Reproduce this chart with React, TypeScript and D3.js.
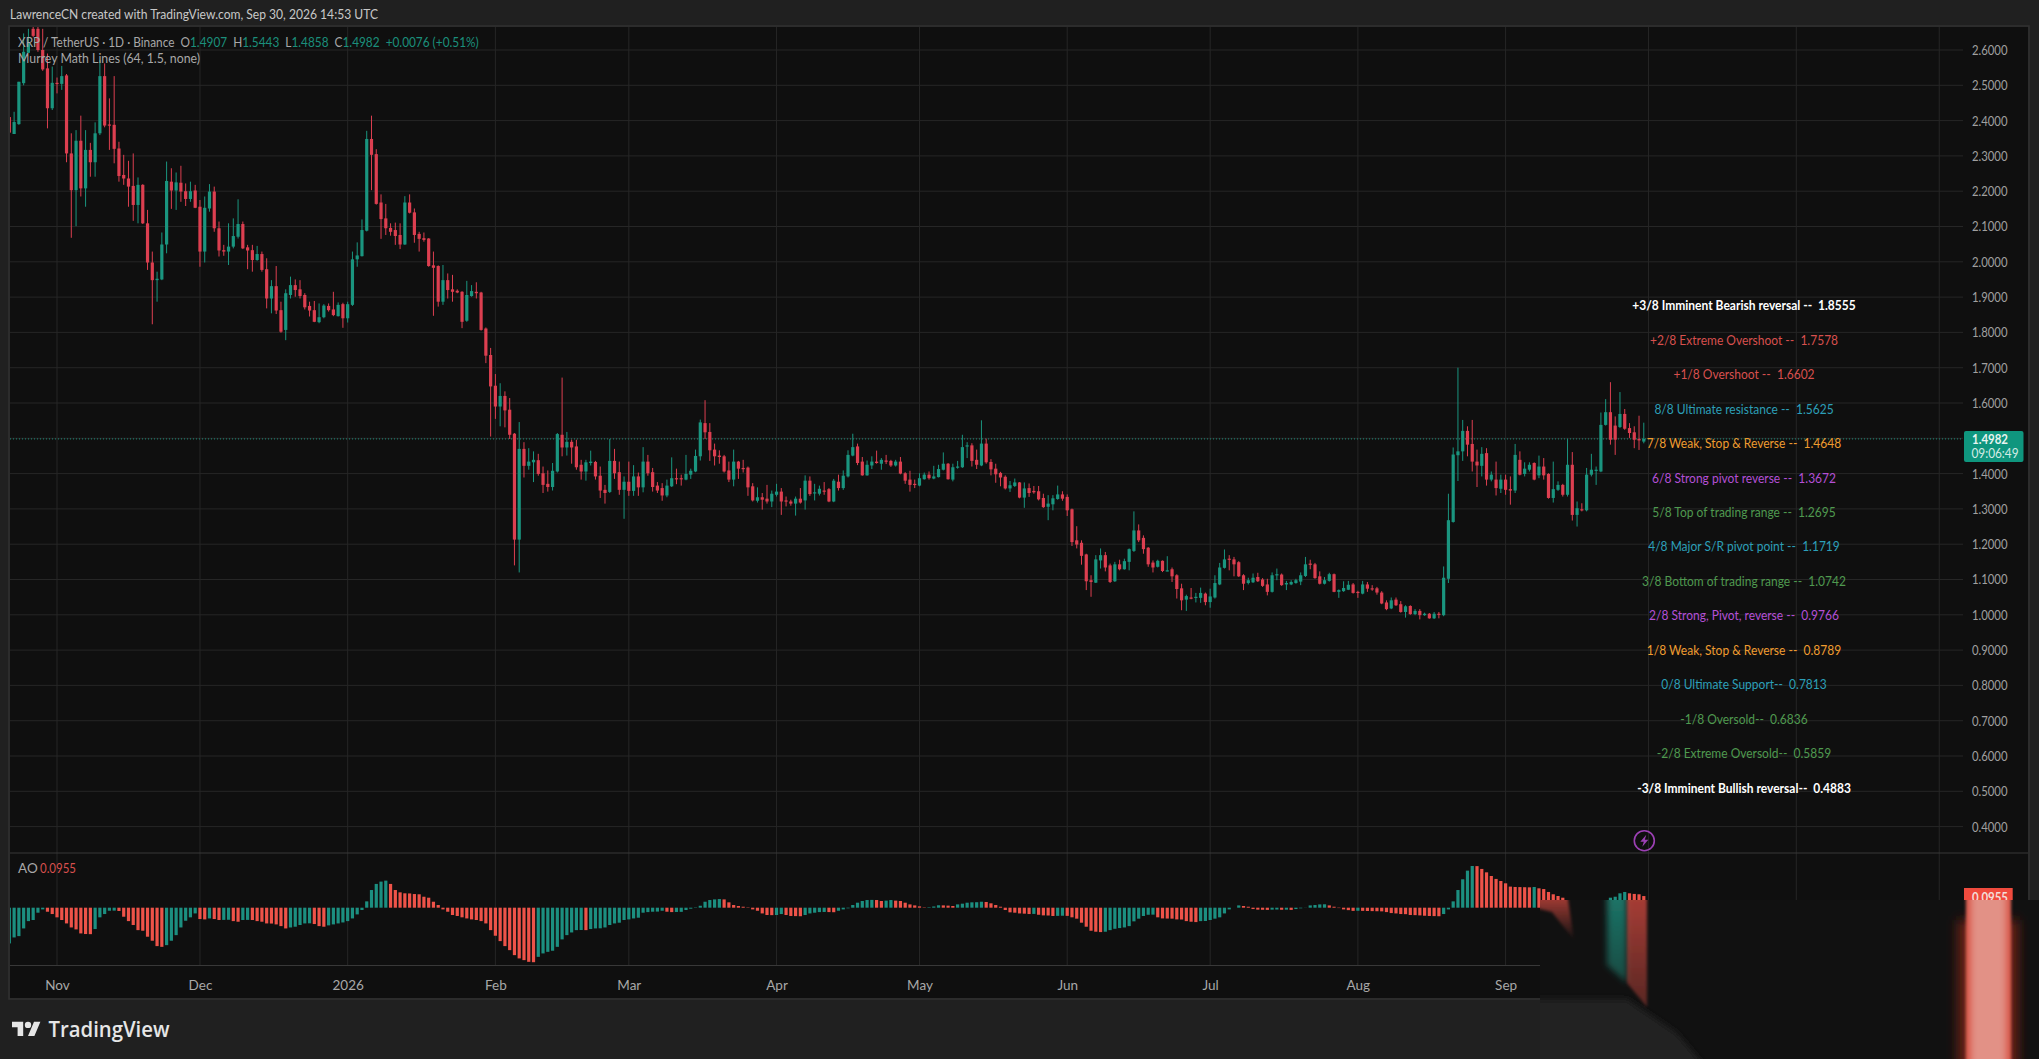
import { useEffect, useRef } from "react";
import * as d3 from "d3";

const WIDTH = 2039;
const HEIGHT = 1059;

const firstDay = new Date(Date.UTC(2025, 9, 22));

const opens = [
  2.41,2.362,2.39,2.506,2.592,2.66,2.66,2.60,2.548,2.435,
  2.507,2.504,2.528,2.307,2.203,2.343,2.208,2.317,2.282,2.364,
  2.526,2.389,2.388,2.321,2.246,2.236,2.215,2.161,2.218,2.109,
  1.998,1.948,1.95,2.049,2.227,2.202,2.224,2.2,2.178,2.202,
  2.156,2.029,2.151,2.199,2.095,2.033,2.029,2.043,2.071,2.107,
  2.041,2.033,2.005,2.022,1.979,1.896,1.931,1.863,1.807,1.906,
  1.934,1.922,1.906,1.875,1.863,1.829,1.843,1.875,1.865,1.846,
  1.88,1.84,1.878,2.007,2.016,2.088,2.348,2.305,2.168,2.123,
  2.096,2.09,2.076,2.049,2.168,2.14,2.079,2.067,2.066,1.99,
  1.988,1.887,1.948,1.922,1.918,1.915,1.833,1.903,1.915,1.913,
  1.811,1.736,1.649,1.59,1.62,1.581,1.513,1.213,1.47,1.422,
  1.432,1.438,1.401,1.371,1.362,1.406,1.51,1.474,1.49,1.477,
  1.425,1.406,1.43,1.433,1.394,1.354,1.348,1.436,1.404,1.354,
  1.377,1.351,1.392,1.361,1.434,1.404,1.366,1.359,1.338,1.364,
  1.387,1.387,1.383,1.397,1.406,1.449,1.543,1.518,1.468,1.451,
  1.449,1.409,1.383,1.434,1.416,1.417,1.364,1.323,1.333,1.329,
  1.321,1.34,1.349,1.324,1.321,1.315,1.329,1.324,1.38,1.345,
  1.343,1.352,1.356,1.321,1.377,1.359,1.392,1.451,1.477,1.434,
  1.395,1.423,1.434,1.428,1.437,1.436,1.423,1.434,1.401,1.383,
  1.371,1.366,1.384,1.397,1.386,1.39,1.411,1.428,1.383,1.418,
  1.418,1.477,1.48,1.439,1.423,1.485,1.433,1.414,1.402,1.391,
  1.358,1.365,1.375,1.332,1.359,1.351,1.35,1.331,1.306,1.313,
  1.328,1.341,1.334,1.299,1.211,1.204,1.171,1.098,1.091,1.154,
  1.169,1.14,1.095,1.143,1.129,1.15,1.181,1.239,1.218,1.19,
  1.148,1.136,1.153,1.124,1.129,1.112,1.075,1.043,1.049,1.048,
  1.048,1.06,1.036,1.049,1.086,1.133,1.159,1.157,1.149,1.112,
  1.09,1.092,1.107,1.1,1.086,1.065,1.112,1.114,1.086,1.086,
  1.09,1.094,1.11,1.145,1.143,1.109,1.088,1.096,1.115,1.065,
  1.067,1.071,1.086,1.065,1.06,1.086,1.075,1.075,1.063,1.035,
  1.018,1.043,1.03,1.008,1.025,1.002,1.011,0.999,1.003,0.99,
  1.003,0.999,1.102,1.263,1.452,1.463,1.521,1.484,1.434,1.422,
  1.458,1.383,1.383,1.357,1.383,1.356,1.352,1.439,1.399,1.411,
  1.43,1.395,1.42,1.399,1.331,1.354,1.368,1.34,1.425,1.283,
  1.299,1.296,1.397,1.408,1.406,1.538,1.574,1.536,1.532,1.569,
  1.529,1.517,1.498,1.4907,
];

const highs = [
  2.421,2.425,2.51,2.647,2.66,2.68,2.68,2.66,2.59,2.553,
  2.522,2.555,2.532,2.364,2.373,2.414,2.373,2.337,2.395,2.572,
  2.562,2.463,2.526,2.34,2.303,2.286,2.307,2.239,2.22,2.147,
  2.029,1.972,2.083,2.284,2.265,2.253,2.272,2.222,2.227,2.218,
  2.175,2.185,2.22,2.213,2.114,2.048,2.109,2.123,2.177,2.114,
  2.048,2.048,2.045,2.029,2.01,1.948,1.988,1.887,1.922,1.958,
  1.95,1.948,1.911,1.887,1.889,1.882,1.88,1.882,1.915,1.885,
  1.884,1.887,2.029,2.055,2.12,2.371,2.414,2.319,2.191,2.164,
  2.109,2.111,2.109,2.186,2.191,2.151,2.085,2.083,2.067,2.029,
  1.99,1.991,1.967,1.963,1.922,1.917,1.946,1.934,1.942,1.915,
  1.814,1.756,1.682,1.656,1.633,1.614,1.515,1.546,1.489,1.472,
  1.463,1.456,1.42,1.409,1.43,1.515,1.672,1.518,1.496,1.496,
  1.439,1.439,1.465,1.436,1.42,1.368,1.498,1.47,1.434,1.392,
  1.434,1.424,1.403,1.475,1.453,1.416,1.376,1.373,1.383,1.446,
  1.414,1.397,1.453,1.414,1.468,1.553,1.608,1.543,1.485,1.466,
  1.453,1.434,1.468,1.436,1.439,1.42,1.373,1.361,1.345,1.368,
  1.352,1.371,1.359,1.335,1.326,1.335,1.359,1.395,1.392,1.371,
  1.366,1.376,1.359,1.385,1.397,1.409,1.466,1.513,1.485,1.447,
  1.437,1.449,1.465,1.444,1.453,1.439,1.439,1.447,1.404,1.408,
  1.383,1.401,1.403,1.406,1.422,1.425,1.46,1.43,1.428,1.436,
  1.51,1.489,1.486,1.468,1.551,1.499,1.441,1.428,1.405,1.395,
  1.379,1.386,1.376,1.375,1.372,1.365,1.365,1.343,1.339,1.339,
  1.366,1.35,1.341,1.301,1.251,1.211,1.173,1.112,1.169,1.188,
  1.178,1.145,1.15,1.156,1.159,1.188,1.293,1.256,1.225,1.192,
  1.154,1.156,1.154,1.166,1.134,1.115,1.088,1.057,1.076,1.062,
  1.077,1.063,1.074,1.112,1.147,1.185,1.169,1.164,1.152,1.115,
  1.105,1.117,1.119,1.104,1.102,1.12,1.131,1.117,1.096,1.098,
  1.102,1.12,1.164,1.156,1.147,1.123,1.107,1.119,1.117,1.072,
  1.095,1.096,1.09,1.068,1.096,1.093,1.084,1.079,1.067,1.041,
  1.049,1.049,1.039,1.027,1.027,1.016,1.016,1.006,1.005,1.008,
  1.008,1.137,1.343,1.474,1.70,1.552,1.534,1.552,1.468,1.475,
  1.472,1.406,1.434,1.397,1.397,1.392,1.484,1.463,1.432,1.432,
  1.432,1.451,1.444,1.401,1.434,1.378,1.371,1.498,1.461,1.321,
  1.316,1.416,1.456,1.42,1.573,1.611,1.659,1.562,1.631,1.583,
  1.543,1.534,1.564,1.5443,
];

const lows = [
  2.364,2.362,2.388,2.50,2.592,2.636,2.595,2.541,2.378,2.43,
  2.477,2.487,2.282,2.068,2.101,2.185,2.156,2.241,2.241,2.359,
  2.381,2.317,2.279,2.227,2.218,2.156,2.116,2.109,2.107,1.977,
  1.823,1.887,1.948,2.024,2.15,2.147,2.17,2.158,2.17,2.152,
  1.986,1.998,2.142,2.085,2.015,2.017,1.991,2.038,2.066,2.036,
  1.979,1.972,2.003,1.972,1.868,1.854,1.852,1.799,1.778,1.896,
  1.901,1.896,1.865,1.845,1.829,1.826,1.84,1.859,1.846,1.845,
  1.813,1.828,1.875,1.986,2.015,2.086,2.203,2.162,2.065,2.076,
  2.074,2.048,2.036,2.048,2.137,2.054,2.029,2.057,1.986,1.847,
  1.873,1.878,1.896,1.887,1.911,1.812,1.83,1.901,1.896,1.805,
  1.713,1.505,1.555,1.534,1.531,1.498,1.14,1.12,1.389,1.411,
  1.376,1.394,1.345,1.349,1.352,1.403,1.449,1.451,1.428,1.411,
  1.383,1.38,1.423,1.383,1.331,1.315,1.345,1.385,1.34,1.272,
  1.337,1.337,1.337,1.347,1.394,1.349,1.345,1.323,1.333,1.362,
  1.37,1.366,1.381,1.385,1.404,1.437,1.498,1.436,1.423,1.428,
  1.403,1.376,1.364,1.385,1.403,1.337,1.321,1.318,1.298,1.315,
  1.305,1.335,1.283,1.307,1.309,1.281,1.315,1.298,1.337,1.324,
  1.338,1.34,1.319,1.319,1.352,1.354,1.389,1.449,1.424,1.394,
  1.394,1.413,1.428,1.411,1.427,1.419,1.42,1.398,1.371,1.349,
  1.359,1.364,1.383,1.383,1.384,1.389,1.409,1.383,1.378,1.414,
  1.416,1.444,1.42,1.413,1.421,1.428,1.395,1.374,1.364,1.355,
  1.348,1.362,1.33,1.303,1.334,1.343,1.324,1.303,1.268,1.296,
  1.326,1.323,1.28,1.195,1.188,1.142,1.07,1.051,1.09,1.131,
  1.123,1.09,1.093,1.126,1.128,1.126,1.178,1.206,1.173,1.136,
  1.12,1.134,1.121,1.123,1.093,1.046,1.013,1.011,1.044,1.035,
  1.034,1.027,1.02,1.046,1.084,1.131,1.126,1.109,1.107,1.07,
  1.086,1.09,1.093,1.079,1.055,1.063,1.098,1.082,1.07,1.084,
  1.088,1.084,1.107,1.129,1.102,1.086,1.086,1.094,1.064,1.048,
  1.065,1.07,1.06,1.048,1.058,1.065,1.068,1.057,1.03,1.013,
  1.016,1.025,1.006,0.992,1.0,0.999,0.987,0.997,0.989,0.988,
  0.99,0.996,1.09,1.261,1.379,1.436,1.449,1.406,1.362,1.392,
  1.366,1.378,1.338,1.345,1.34,1.312,1.345,1.395,1.392,1.406,
  1.381,1.387,1.383,1.329,1.318,1.351,1.335,1.335,1.267,1.25,
  1.293,1.293,1.392,1.368,1.404,1.536,1.482,1.453,1.529,1.524,
  1.501,1.472,1.467,1.4858,
];

const closes = [
  2.366,2.396,2.51,2.595,2.619,2.64,2.60,2.545,2.435,2.507,
  2.505,2.526,2.307,2.203,2.343,2.208,2.317,2.282,2.364,2.526,
  2.386,2.386,2.32,2.243,2.236,2.213,2.161,2.218,2.109,1.998,
  1.948,1.952,2.049,2.229,2.202,2.225,2.199,2.178,2.2,2.153,
  2.029,2.153,2.199,2.095,2.032,2.029,2.043,2.073,2.107,2.038,
  2.032,2.005,2.022,1.977,1.896,1.931,1.862,1.802,1.911,1.934,
  1.92,1.903,1.871,1.862,1.83,1.843,1.876,1.863,1.849,1.878,
  1.84,1.88,2.007,2.018,2.09,2.348,2.303,2.164,2.121,2.095,
  2.085,2.073,2.049,2.168,2.139,2.076,2.065,2.062,1.988,1.983,
  1.887,1.948,1.92,1.915,1.913,1.83,1.906,1.917,1.911,1.807,
  1.734,1.647,1.59,1.62,1.579,1.51,1.213,1.47,1.422,1.434,
  1.439,1.399,1.368,1.362,1.408,1.512,1.474,1.49,1.474,1.418,
  1.406,1.432,1.434,1.392,1.352,1.345,1.436,1.401,1.354,1.377,
  1.351,1.392,1.361,1.434,1.401,1.362,1.352,1.338,1.366,1.387,
  1.385,1.384,1.399,1.408,1.45,1.545,1.517,1.466,1.449,1.447,
  1.406,1.383,1.434,1.414,1.414,1.361,1.324,1.333,1.326,1.321,
  1.343,1.349,1.321,1.321,1.315,1.329,1.318,1.38,1.342,1.347,
  1.357,1.349,1.321,1.38,1.359,1.394,1.453,1.475,1.43,1.395,
  1.425,1.434,1.43,1.439,1.434,1.423,1.434,1.4,1.38,1.368,
  1.369,1.387,1.397,1.387,1.392,1.413,1.428,1.384,1.418,1.42,
  1.475,1.48,1.436,1.425,1.485,1.432,1.412,1.398,1.389,1.358,
  1.367,1.375,1.332,1.358,1.345,1.347,1.327,1.305,1.315,1.33,
  1.341,1.329,1.296,1.206,1.199,1.167,1.095,1.093,1.157,1.169,
  1.134,1.093,1.143,1.129,1.152,1.186,1.239,1.211,1.186,1.143,
  1.134,1.153,1.124,1.126,1.109,1.073,1.041,1.053,1.046,1.051,
  1.062,1.036,1.052,1.09,1.134,1.157,1.157,1.143,1.109,1.088,
  1.098,1.105,1.095,1.082,1.065,1.112,1.115,1.084,1.09,1.093,
  1.098,1.112,1.143,1.143,1.104,1.088,1.098,1.115,1.065,1.07,
  1.076,1.085,1.062,1.063,1.086,1.074,1.073,1.063,1.032,1.016,
  1.041,1.027,1.008,1.024,1.002,1.011,0.999,1.003,0.99,1.003,
  1.002,1.105,1.268,1.454,1.463,1.521,1.482,1.434,1.423,1.456,
  1.383,1.397,1.359,1.383,1.354,1.352,1.453,1.397,1.414,1.425,
  1.383,1.42,1.395,1.331,1.356,1.368,1.34,1.425,1.283,1.302,
  1.296,1.397,1.411,1.411,1.538,1.574,1.496,1.496,1.569,1.527,
  1.515,1.496,1.494,1.4982,
];

// Awesome Oscillator, one bar per candle
const aoValues = [
  -0.293,-0.244,-0.233,-0.17,-0.11,-0.101,-0.041,-0.014,-0.033,-0.052,
  -0.079,-0.101,-0.129,-0.162,-0.178,-0.211,-0.216,-0.217,-0.175,-0.079,
  -0.052,-0.025,-0.024,-0.027,-0.074,-0.11,-0.142,-0.184,-0.189,-0.238,
  -0.271,-0.315,-0.321,-0.307,-0.271,-0.225,-0.162,-0.107,-0.079,-0.047,
  -0.093,-0.096,-0.088,-0.093,-0.101,-0.1,-0.099,-0.11,-0.115,-0.101,
  -0.1,-0.101,-0.11,-0.115,-0.129,-0.13,-0.137,-0.151,-0.17,-0.162,
  -0.156,-0.142,-0.129,-0.128,-0.134,-0.151,-0.156,-0.145,-0.137,-0.129,
  -0.121,-0.11,-0.088,-0.055,-0.019,0.052,0.145,0.195,0.214,0.222,
  0.195,0.145,0.126,0.118,0.117,0.112,0.11,0.09,0.082,0.049,
  0.022,-0.014,-0.033,-0.06,-0.068,-0.079,-0.088,-0.096,-0.101,-0.11,
  -0.129,-0.184,-0.23,-0.274,-0.315,-0.348,-0.389,-0.416,-0.43,-0.444,
  -0.447,-0.403,-0.375,-0.362,-0.353,-0.321,-0.26,-0.225,-0.203,-0.184,
  -0.183,-0.184,-0.175,-0.17,-0.169,-0.162,-0.142,-0.129,-0.123,-0.101,
  -0.096,-0.088,-0.082,-0.041,-0.036,-0.033,-0.032,-0.025,-0.033,-0.036,
  -0.035,-0.034,-0.019,-0.008,0.003,0.016,0.049,0.063,0.068,0.071,
  0.068,0.044,0.022,0.014,0.008,0.003,-0.014,-0.025,-0.047,-0.06,
  -0.061,-0.06,-0.052,-0.06,-0.068,-0.069,-0.07,-0.06,-0.047,-0.041,
  -0.036,-0.035,-0.036,-0.037,-0.025,-0.014,-0.005,0.022,0.041,0.055,
  0.063,0.064,0.063,0.055,0.058,0.063,0.058,0.055,0.041,0.027,
  0.019,0.011,0.003,0.004,0.01,0.02,0.019,0.017,0.014,0.027,
  0.033,0.041,0.044,0.045,0.049,0.047,0.036,0.022,0.008,-0.019,
  -0.038,-0.041,-0.047,-0.049,-0.052,-0.051,-0.058,-0.063,-0.064,-0.068,
  -0.067,-0.066,-0.067,-0.079,-0.09,-0.123,-0.156,-0.189,-0.197,-0.2,
  -0.197,-0.184,-0.173,-0.167,-0.162,-0.151,-0.112,-0.09,-0.068,-0.058,
  -0.057,-0.079,-0.088,-0.089,-0.09,-0.096,-0.097,-0.11,-0.115,-0.118,
  -0.11,-0.109,-0.101,-0.09,-0.079,-0.047,-0.014,0,0.019,0.014,
  0.008,-0.011,-0.016,-0.017,-0.018,-0.016,-0.015,-0.017,-0.016,-0.018,
  -0.011,-0.005,-0.001,0.019,0.022,0.027,0.028,0.019,0.008,-0.003,
  -0.014,-0.02,-0.026,-0.025,-0.026,-0.027,-0.028,-0.029,-0.03,-0.036,
  -0.044,-0.047,-0.052,-0.053,-0.06,-0.061,-0.063,-0.066,-0.068,-0.069,
  -0.07,-0.052,-0.014,0.052,0.145,0.233,0.304,0.342,0.341,0.318,
  0.29,0.26,0.236,0.219,0.2,0.173,0.17,0.169,0.168,0.167,
  0.17,0.159,0.153,0.129,0.11,0.096,0.082,0.058,0.05,0.042,
  0.036,0.03,0.026,0.03,0.04,0.055,0.082,0.09,0.118,0.129,
  0.118,0.113,0.11,0.0955,
];

const priceTicks = d3.range(4, 27).map((d) => d / 10);

const monthDates = [
  [2025, 10], [2025, 11], [2026, 0], [2026, 1], [2026, 2], [2026, 3],
  [2026, 4], [2026, 5], [2026, 6], [2026, 7], [2026, 8],
].map(([y, m]) => new Date(Date.UTC(y, m, 1)));
const monthLabels = ["Nov", "Dec", "2026", "Feb", "Mar", "Apr", "May", "Jun", "Jul", "Aug", "Sep"];
const hiddenMonthDates = [[2026, 9], [2026, 10], [2026, 11]].map(([y, m]) => new Date(Date.UTC(y, m, 1)));

const murreyLabels = [
  "+3/8 Imminent Bearish reversal --", "+2/8 Extreme Overshoot --", "+1/8 Overshoot --",
  "8/8 Ultimate resistance --", "7/8 Weak, Stop & Reverse --", "6/8 Strong pivot reverse --",
  "5/8 Top of trading range --", "4/8 Major S/R pivot point --", "3/8 Bottom of trading range --",
  "2/8 Strong, Pivot, reverse --", "1/8 Weak, Stop & Reverse --", "0/8 Ultimate Support--",
  "-1/8 Oversold--", "-2/8 Extreme Oversold--", "-3/8 Imminent Bullish reversal--",
];
const murreyLevels = [1.8555, 1.7578, 1.6602, 1.5625, 1.4648, 1.3672, 1.2695, 1.1719, 1.0742, 0.9766, 0.8789, 0.7813, 0.6836, 0.5859, 0.4883];
const murreyColors = [
  "#ffffff", "#d8504e", "#d8504e", "#2c9fb8", "#ef9c2f", "#b44fd6", "#4f9a4f", "#2c9fb8",
  "#4f9a4f", "#b44fd6", "#ef9c2f", "#2c9fb8", "#4f9a4f", "#4f9a4f", "#ffffff",
];

const legendParts = [
  { text: "XRP / TetherUS · 1D · Binance\u00a0\u00a0O", color: "#a8a8a8" },
  { text: "1.4907", color: "#1b8f7c" },
  { text: "\u00a0\u00a0H", color: "#a8a8a8" },
  { text: "1.5443", color: "#1b8f7c" },
  { text: "\u00a0\u00a0L", color: "#a8a8a8" },
  { text: "1.4858", color: "#1b8f7c" },
  { text: "\u00a0\u00a0C", color: "#a8a8a8" },
  { text: "1.4982", color: "#1b8f7c" },
  { text: "\u00a0\u00a0+0.0076 (+0.51%)", color: "#1b8f7c" },
];

const UP = "#1a957f";
const DOWN = "#dc3f50";
const AO_UP = "#1c8f80";
const AO_DOWN = "#ee5349";
const FONT = "Lato, 'Open Sans', sans-serif";

const App = () => {
  const chartRef = useRef<SVGSVGElement>(null);

  useEffect(() => {
    if (!chartRef.current) return;
    const svg = d3.select(chartRef.current);
    svg.selectAll("*").remove();

    const plotLeft = 10;
    const plotRight = 1963;
    const plotTop = 27;
    const frameRight = 2028;
    const paneSplit = 853;
    const aoBottom = 965.5;
    const frameBottom = 998;

    const x = d3
      .scaleUtc()
      .domain([monthDates[0], monthDates[10]])
      .range([57, 1505.6]);
    const y = d3.scaleLinear().domain([2.6, 0.4]).range([50, 826.6]);
    const yAo = d3.scaleLinear().domain([0, 0.342]).range([907.7, 866]);

    const days = opens.map((_, i) => d3.utcDay.offset(firstDay, i));

    const defs = svg.append("defs");
    const clip = (id: string, cx: number, cy: number, w: number, h: number) =>
      defs
        .append("clipPath")
        .attr("id", id)
        .append("rect")
        .attr("x", cx)
        .attr("y", cy)
        .attr("width", w)
        .attr("height", h);
    clip("main-clip", plotLeft, plotTop, plotRight - plotLeft, paneSplit - plotTop);
    clip("ao-clip", plotLeft, paneSplit, plotRight - plotLeft, aoBottom - paneSplit);
    clip("damage-clip", 1540, 900, 499, 159);
    const blur = (id: string, amount: number) =>
      defs
        .append("filter")
        .attr("id", id)
        .attr("x", "-60%")
        .attr("y", "-40%")
        .attr("width", "220%")
        .attr("height", "180%")
        .append("feGaussianBlur")
        .attr("stdDeviation", amount);
    blur("blur-2", 1.8);
    blur("blur-3", 3);
    blur("blur-6", 6);
    const fade = (id: string, color: string, top: number, bottom: number) => {
      const g = defs
        .append("linearGradient")
        .attr("id", id)
        .attr("x1", 0)
        .attr("y1", 0)
        .attr("x2", 0)
        .attr("y2", 1);
      g.append("stop").attr("offset", 0).attr("stop-color", color).attr("stop-opacity", top);
      g.append("stop").attr("offset", 1).attr("stop-color", color).attr("stop-opacity", bottom);
    };
    fade("fade-green", "#1f8f7e", 0.8, 0.45);
    fade("fade-red", "#c4453c", 0.85, 0.4);
    fade("fade-left", "#c4453c", 0.9, 0);

    // Page and panes
    svg.append("rect").attr("width", WIDTH).attr("height", HEIGHT).attr("fill", "#202020");
    svg
      .append("rect")
      .attr("x", plotLeft)
      .attr("y", plotTop)
      .attr("width", frameRight - plotLeft)
      .attr("height", frameBottom - plotTop)
      .attr("fill", "#0f0f0f");

    // Grid
    const grid = svg.append("g").attr("stroke", "#262626").attr("stroke-width", 1);
    grid
      .selectAll("line.h")
      .data(priceTicks)
      .join("line")
      .attr("class", "h")
      .attr("x1", plotLeft)
      .attr("x2", plotRight)
      .attr("y1", (d) => y(d))
      .attr("y2", (d) => y(d));
    grid
      .selectAll("line.v")
      .data([...monthDates, ...hiddenMonthDates])
      .join("line")
      .attr("class", "v")
      .attr("x1", (d) => x(d))
      .attr("x2", (d) => x(d))
      .attr("y1", plotTop)
      .attr("y2", aoBottom);

    // Pane separators and frame
    const rules = svg.append("g").attr("stroke", "#383838").attr("stroke-width", 1);
    rules.append("line").attr("x1", plotLeft).attr("x2", frameRight).attr("y1", paneSplit).attr("y2", paneSplit);
    rules.append("line").attr("x1", plotLeft).attr("x2", plotRight).attr("y1", aoBottom).attr("y2", aoBottom);
    svg
      .append("rect")
      .attr("x", plotLeft - 1)
      .attr("y", plotTop - 1)
      .attr("width", frameRight - plotLeft + 2)
      .attr("height", frameBottom - plotTop + 2)
      .attr("fill", "none")
      .attr("stroke", "#303030")
      .attr("stroke-width", 1.5);

    // Last price line
    svg
      .append("line")
      .attr("x1", plotLeft)
      .attr("x2", plotRight)
      .attr("y1", y(closes[closes.length - 1]))
      .attr("y2", y(closes[closes.length - 1]))
      .attr("stroke", "#1f8f7c")
      .attr("stroke-width", 1)
      .attr("stroke-dasharray", "1 2");

    // Candles
    const candles = svg.append("g").attr("clip-path", "url(#main-clip)");
    candles
      .selectAll("line")
      .data(days)
      .join("line")
      .attr("x1", (d) => x(d))
      .attr("x2", (d) => x(d))
      .attr("y1", (_, i) => y(highs[i]))
      .attr("y2", (_, i) => y(lows[i]))
      .attr("stroke", (_, i) => (closes[i] >= opens[i] ? UP : DOWN))
      .attr("stroke-width", 1);
    candles
      .selectAll("rect")
      .data(days)
      .join("rect")
      .attr("x", (d) => x(d) - 1.6)
      .attr("width", 3.2)
      .attr("y", (_, i) => y(Math.max(opens[i], closes[i])))
      .attr("height", (_, i) => Math.max(1.2, Math.abs(y(opens[i]) - y(closes[i]))))
      .attr("fill", (_, i) => (closes[i] >= opens[i] ? UP : DOWN));

    // AO histogram
    svg
      .append("g")
      .attr("clip-path", "url(#ao-clip)")
      .selectAll("rect")
      .data(days)
      .join("rect")
      .attr("x", (d) => x(d) - 1.6)
      .attr("width", 3.2)
      .attr("y", (_, i) => Math.min(yAo(aoValues[i]), yAo(0)))
      .attr("height", (_, i) => Math.abs(yAo(aoValues[i]) - yAo(0)))
      .attr("fill", (_, i) => (i === 0 || aoValues[i] >= aoValues[i - 1] ? AO_UP : AO_DOWN));

    // Price axis
    const priceAxis = svg
      .append("g")
      .attr("transform", `translate(${plotRight + 9},0)`)
      .call(d3.axisRight(y).tickValues(priceTicks).tickFormat(d3.format(".4f")).tickSize(0));
    priceAxis.select(".domain").remove();
    priceAxis
      .selectAll("text")
      .attr("font-family", FONT)
      .attr("font-size", 14)
      .attr("fill", "#a0a0a0")
      .attr("x", 0)
      .attr("textLength", 35.5)
      .attr("lengthAdjust", "spacingAndGlyphs");

    // Time axis
    const timeAxis = svg
      .append("g")
      .attr("transform", `translate(0,${aoBottom + 15})`)
      .call(
        d3
          .axisBottom(x)
          .tickValues(monthDates)
          .tickFormat((_, i) => monthLabels[i])
          .tickSize(0)
      );
    timeAxis.select(".domain").remove();
    timeAxis
      .selectAll("text")
      .attr("font-family", FONT)
      .attr("font-size", 13.5)
      .attr("fill", "#a8a8a8")
      .attr("y", 0)
      .attr("dy", "0.71em");

    // Murrey math labels
    svg
      .append("g")
      .attr("transform", "translate(1744,0) scale(0.89,1)")
      .attr("font-family", FONT)
      .attr("font-size", 13.5)
      .attr("text-anchor", "middle")
      .selectAll("text")
      .data(murreyLevels)
      .join("text")
      .attr("x", 0)
      .attr("y", (d) => y(d) - 7.4)
      .attr("dy", "0.35em")
      .attr("fill", (_, i) => murreyColors[i])
      .attr("font-weight", (_, i) => (murreyColors[i] === "#ffffff" ? 700 : 400))
      .text((d, i) => `${murreyLabels[i]}\u00a0\u00a0${d.toFixed(4)}`);

    // Header and legends
    svg
      .append("text")
      .attr("x", 10)
      .attr("y", 19)
      .attr("font-family", FONT)
      .attr("font-size", 14)
      .attr("fill", "#c8c8c8")
      .attr("textLength", 368)
      .attr("lengthAdjust", "spacingAndGlyphs")
      .text("LawrenceCN created with TradingView.com, Sep 30, 2026 14:53 UTC");

    // The legend is squeezed as a whole so its coloured parts keep their flow
    const legend = svg
      .append("text")
      .attr("y", 47)
      .attr("font-family", FONT)
      .attr("font-size", 14);
    legend
      .selectAll("tspan")
      .data(legendParts)
      .join("tspan")
      .attr("fill", (d) => d.color)
      .text((d) => d.text);
    const legendWidth = (legend.node() as SVGTextElement).getComputedTextLength();
    legend.attr("transform", `translate(18,0) scale(${461 / legendWidth},1)`);

    svg
      .append("text")
      .attr("x", 18)
      .attr("y", 63)
      .attr("font-family", FONT)
      .attr("font-size", 14)
      .attr("fill", "#a8a8a8")
      .attr("textLength", 182)
      .attr("lengthAdjust", "spacingAndGlyphs")
      .text("Murrey Math Lines (64, 1.5, none)");
    svg
      .append("text")
      .attr("x", 18)
      .attr("y", 873)
      .attr("font-family", FONT)
      .attr("font-size", 13.5)
      .attr("fill", "#a8a8a8")
      .text("AO");
    svg
      .append("text")
      .attr("x", 40)
      .attr("y", 873)
      .attr("font-family", FONT)
      .attr("font-size", 13.5)
      .attr("fill", "#d8504e")
      .attr("textLength", 36)
      .attr("lengthAdjust", "spacingAndGlyphs")
      .text(d3.format(".4f")(aoValues[aoValues.length - 1]));

    // Last price tag
    svg
      .append("rect")
      .attr("x", 1964)
      .attr("y", 431)
      .attr("width", 59.5)
      .attr("height", 31)
      .attr("rx", 2)
      .attr("fill", "#0f967e");
    svg
      .append("text")
      .attr("x", 1972)
      .attr("y", 444)
      .attr("font-family", FONT)
      .attr("font-size", 14)
      .attr("font-weight", 700)
      .attr("fill", "#e8f4f0")
      .attr("textLength", 36)
      .attr("lengthAdjust", "spacingAndGlyphs")
      .text(d3.format(".4f")(closes[closes.length - 1]));
    svg
      .append("text")
      .attr("x", 1971.5)
      .attr("y", 458)
      .attr("font-family", FONT)
      .attr("font-size", 14)
      .attr("fill", "#d4ebe5")
      .attr("textLength", 47)
      .attr("lengthAdjust", "spacingAndGlyphs")
      .text("09:06:49");

    // AO tag
    svg.append("rect").attr("x", 1964).attr("y", 888).attr("width", 48.7).attr("height", 18).attr("fill", "#f04b3e");
    svg
      .append("text")
      .attr("x", 1972)
      .attr("y", 901.5)
      .attr("font-family", FONT)
      .attr("font-size", 14)
      .attr("font-weight", 700)
      .attr("fill", "#f4ddd8")
      .attr("textLength", 36)
      .attr("lengthAdjust", "spacingAndGlyphs")
      .text(d3.format(".4f")(aoValues[aoValues.length - 1]));

    // Lightning badge
    const badge = svg.append("g").attr("transform", "translate(1644.3,840.7)");
    badge
      .append("circle")
      .attr("r", 10)
      .attr("fill", "none")
      .attr("stroke", "#9c40b4")
      .attr("stroke-width", 1.6);
    badge.append("path").attr("d", "M2 -6 L-4 1 L-0.5 1 L-2 6 L4 -1 L0.5 -1 Z").attr("fill", "#9c40b4");

    // Logo
    const logo = svg.append("g").attr("transform", "translate(12,1018.5) scale(0.8)").attr("fill", "#e6e6e6");
    logo.append("path").attr("d", "M14 22H7V11H0V4h14v18zM28 22h-8l7.5-18h8L28 22z");
    logo.append("circle").attr("cx", 20).attr("cy", 8).attr("r", 4);
    svg
      .append("text")
      .attr("x", 48.5)
      .attr("y", 1036.5)
      .attr("font-family", "'Open Sans', sans-serif")
      .attr("font-size", 22)
      .attr("font-weight", 600)
      .attr("fill", "#e6e6e6")
      .attr("textLength", 121)
      .attr("lengthAdjust", "spacingAndGlyphs")
      .text("TradingView");

    // Damaged lower right corner of the screenshot
    const damage = svg.append("g").attr("clip-path", "url(#damage-clip)");
    damage.append("rect").attr("x", 1540).attr("y", 900).attr("width", 499).attr("height", 159).attr("fill", "#111111");
    damage
      .append("path")
      .attr("d", "M1480 999 L1627 999 L1677 1033 L1725 1090 L1480 1090 Z")
      .attr("fill", "#232323")
      .attr("filter", "url(#blur-3)");
    damage
      .append("path")
      .attr("d", "M1536 893 L1567 893 L1574 940 L1552 912 L1536 908 Z")
      .attr("fill", "url(#fade-left)")
      .attr("filter", "url(#blur-2)");
    damage
      .append("path")
      .attr("d", "M1607 893 L1627 893 L1627 983 L1607 965 Z")
      .attr("fill", "url(#fade-green)")
      .attr("filter", "url(#blur-3)");
    damage
      .append("path")
      .attr("d", "M1627 893 L1647 893 L1647 1007 L1627 983 Z")
      .attr("fill", "url(#fade-red)")
      .attr("filter", "url(#blur-2)");
    damage
      .append("rect")
      .attr("x", 1958)
      .attr("y", 920)
      .attr("width", 60)
      .attr("height", 170)
      .attr("fill", "#6a2018")
      .attr("filter", "url(#blur-6)");
    damage
      .append("rect")
      .attr("x", 1966)
      .attr("y", 893)
      .attr("width", 45)
      .attr("height", 190)
      .attr("fill", "#d8584c")
      .attr("filter", "url(#blur-2)");
    damage
      .append("rect")
      .attr("x", 1971)
      .attr("y", 893)
      .attr("width", 35)
      .attr("height", 190)
      .attr("fill", "#e29186")
      .attr("filter", "url(#blur-3)");
  }, []);

  return (
    <svg
      ref={chartRef}
      width={WIDTH}
      height={HEIGHT}
      style={{ position: "fixed", left: 0, top: 0, display: "block" }}
    />
  );
};

export default App;
